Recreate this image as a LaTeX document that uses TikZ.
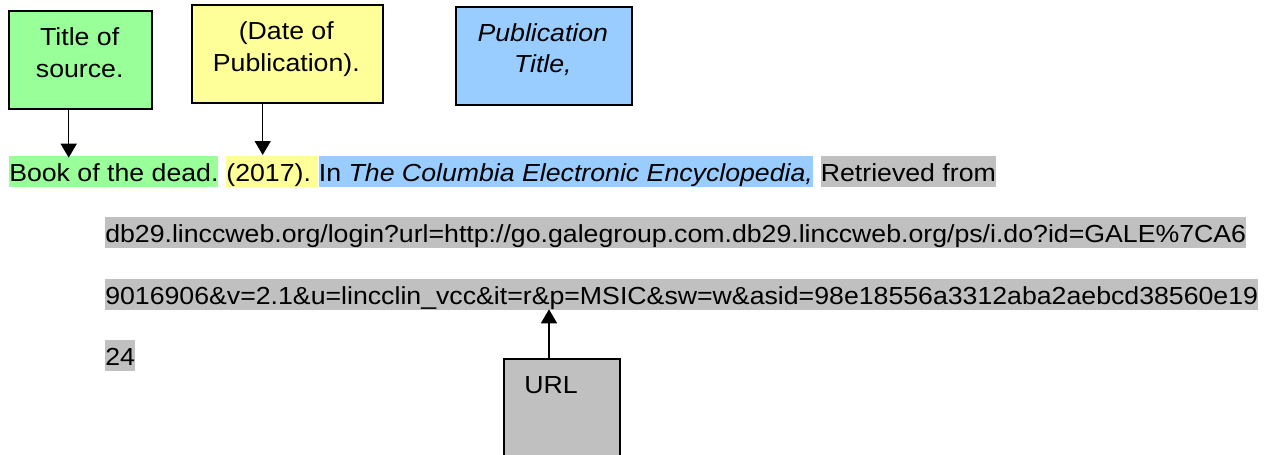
\documentclass[tikz,border=0pt]{standalone}
\usepackage{fontspec}
\newfontfamily\lsans[FakeStretch=1.082]{Liberation Sans}
\usetikzlibrary{arrows.meta}
\definecolor{hgreen}{HTML}{99FF99}
\definecolor{hyellow}{HTML}{FFFF99}
\definecolor{hblue}{HTML}{99CCFF}
\definecolor{hgray}{HTML}{C0C0C0}
\begin{document}
\begin{tikzpicture}[x=0.75pt,y=-0.75pt,
  txt/.style={inner sep=0pt, text=black, font=\lsans\fontsize{18.5pt}{22pt}\selectfont},
  hl/.style={txt, anchor=base west, text height=19.1pt, text depth=4.1pt},
  boxlabel/.style={txt, anchor=base},
  cbox/.style={draw=black, line width=1.6pt, anchor=north west, inner sep=0pt},
  arr/.style={line width=1.1pt, -{Triangle[width=12pt,length=10.5pt]}}]
\useasboundingbox (0,0) rectangle (1268,454);
\clip (0,0) rectangle (1268,454);

% boxes
\node[cbox, fill=hgreen, minimum width=107pt, minimum height=73.5pt] (gbox) at (8.3,10) {};
\node[boxlabel] (g1) at (79.7,45.7) {Title of};
\node[boxlabel] (g2) at (79.7,77.3) {source.};

\node[cbox, fill=hyellow, minimum width=143.5pt, minimum height=73.5pt] (ybox) at (190.7,4) {};
\node[boxlabel] (y1) at (286.3,39.6) {(Date of};
\node[boxlabel] (y2) at (286.3,71.2) {Publication).};

\node[cbox, fill=hblue, minimum width=132.2pt, minimum height=73.5pt] (bbox) at (454.7,5.7) {};
\node[boxlabel] (b1) at (542.8,41.3) {\itshape Publication};
\node[boxlabel] (b2) at (542.8,72.9) {\itshape Title,};

\node[cbox, fill=hgray, minimum width=87.2pt, minimum height=80pt] (ubox) at (502.7,357.7) {};
\node[txt, anchor=base west] (u1) at (524,393.3) {URL};

% citation line 1
\node[hl, fill=hgreen] (c1) at (9,181.5) {Book of the dead.};
\node[hl, fill=hyellow] (c2) at ([xshift=5.55pt]c1.base east) {(2017).\kern\fontdimen2\font};
\node[hl, fill=hblue] (c3) at (c2.base east) {In \textit{The Columbia Electronic Encyclopedia,}};
\node[hl, fill=hgray] (c4) at ([xshift=5.55pt]c3.base east) {Retrieved from};

% URL lines
\node[hl, fill=hgray] (l2) at (105,242.5) {db29.linccweb.org/login?url=http://go.galegroup.com.db29.linccweb.org/ps/i.do?id=GALE\%7CA6};
\node[hl, fill=hgray] (l3) at (105,304.5) {9016906\&v=2.1\&u=lincclin\_vcc\&it=r\&p=MSIC\&sw=w\&asid=98e18556a3312aba2aebcd38560e19};
\node[hl, fill=hgray] (l4) at (105,365.5) {24};

% arrows
\coordinate (tg) at (68.7,157.7);
\coordinate (ty) at (262.7,155);
\coordinate (tu) at (549,309.3);
\draw[arr] (gbox.south -| tg) -- (tg);
\draw[arr] (ybox.south -| ty) -- (ty);
\draw[arr] (ubox.north -| tu) -- (tu);
\end{tikzpicture}
\end{document}
